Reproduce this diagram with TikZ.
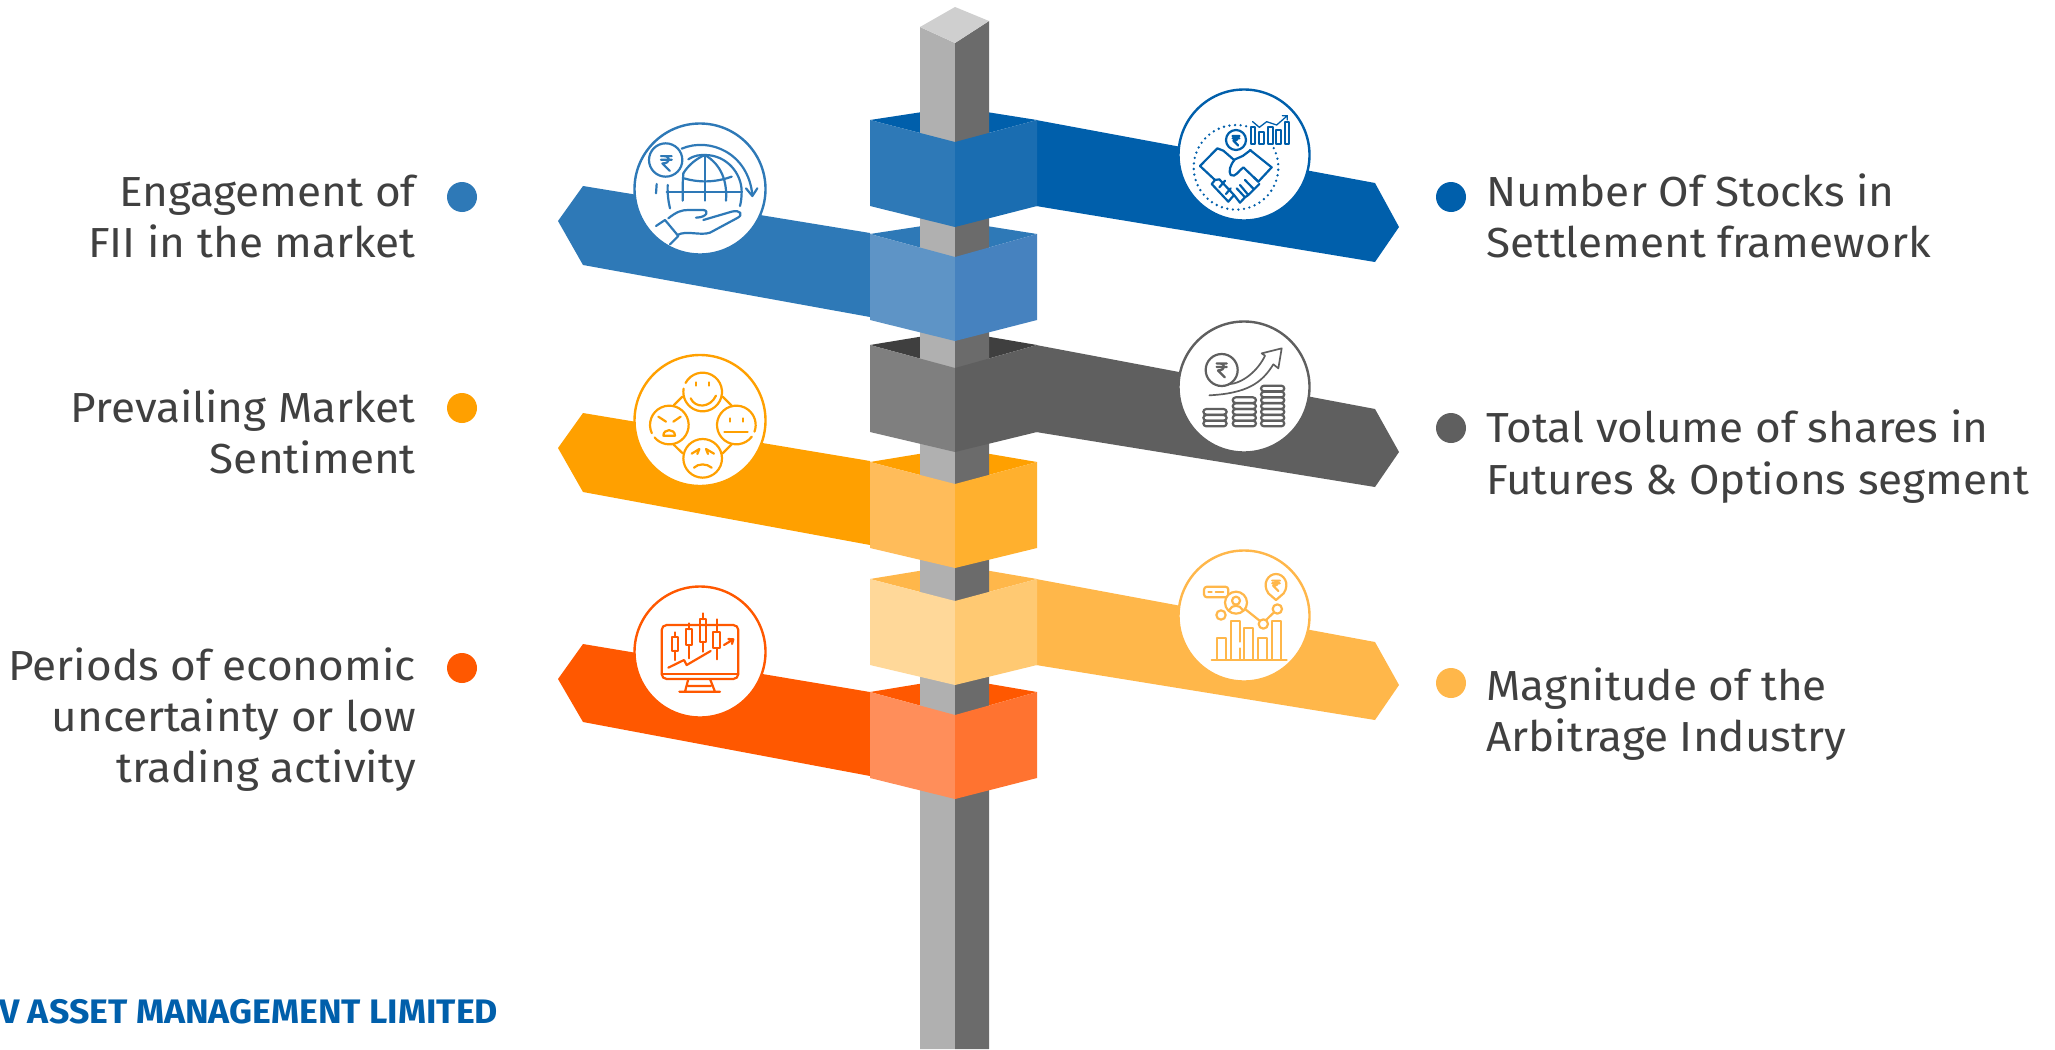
\documentclass[tikz,border=0pt]{standalone}
\usepackage{fontspec}
\setmainfont[FakeStretch=1.05]{Fira Sans}
\definecolor{txt}{HTML}{404040}
\definecolor{bA}{HTML}{2E79B7}\definecolor{bAl}{HTML}{5E94C6}\definecolor{bAr}{HTML}{4682BF}
\definecolor{bB}{HTML}{005FAB}\definecolor{bBl}{HTML}{2E79B7}\definecolor{bBr}{HTML}{1A6DB1}
\definecolor{gA}{HTML}{5F5F5F}\definecolor{gAl}{HTML}{7F7F7F}\definecolor{gAt}{HTML}{3F3F3F}
\definecolor{oA}{HTML}{FFA000}\definecolor{oAl}{HTML}{FFBC5A}\definecolor{oAr}{HTML}{FFB02E}
\definecolor{lA}{HTML}{FFB74A}\definecolor{lAl}{HTML}{FFD899}\definecolor{lAr}{HTML}{FFC972}
\definecolor{rA}{HTML}{FF5800}\definecolor{rAl}{HTML}{FF8E5A}\definecolor{rAr}{HTML}{FF7330}
\tikzset{
  ltxt/.style={anchor=base east,inner sep=0,text=txt,font=\fontsize{42}{50}\selectfont},
  rtxt/.style={anchor=base west,inner sep=0,text=txt,font=\fontsize{42}{50}\selectfont},
  dot/.style={circle,fill=#1,minimum size=30pt,inner sep=0},
  ring/.style={circle,fill=white,draw=#1,line width=2.4pt,minimum size=131pt,inner sep=0},
  icon/.style={color=#1,line width=2.2pt,line cap=round,line join=round}
}
\newcommand{\rupeeat}[3]{\begin{scope}[shift={(#1,#2)},scale=#3]
  \draw (-19,-22)--(19,-22) (-19,-9)--(19,-9) (-8,-22) .. controls (16,-22) and (16,4) .. (-14,4) -- (12,30);
\end{scope}}
% arc of a circle: centre x, y, radius, from, to (angles run clockwise on the page)
\newcommand{\garc}[5]{\draw ([shift={(#4:#3)}]#1,#2) arc (#4:#5:#3);}
\newcommand{\armL}[6]{\fill[#1] (870,#5)--(583,#2)--(558,#3)--(583,#4)--(870,#6)--cycle;}
\newcommand{\armR}[6]{\fill[#1] (1036,#5)--(1375,#2)--(1399,#3)--(1375,#4)--(1036,#6)--cycle;}
\newcommand{\ctop}[4]{\fill[#1] (870,#2)--(955,#3)--(1037,#2)--(955,#4)--cycle;}
\newcommand{\cfront}[6]{\fill[#1] (870,#3)--(955,#4)--(955,#6)--(870,#5)--cycle;
  \fill[#2] (955,#4)--(1037,#3)--(1037,#5)--(955,#6)--cycle;}
\begin{document}
\begin{tikzpicture}[x=1pt,y=-1pt]
\useasboundingbox (0,0) rectangle (2055,1049);
\fill[white] (0,0) rectangle (2055,1049);
% arms and collar tops, behind the post
\armR{bB}{183}{227}{262}{120}{206}
\ctop{bB}{120}{107}{142}
\armL{bA}{186}{221}{265}{233}{317}
\ctop{bA}{234}{221}{257}
\armR{gA}{409}{452}{487}{345}{432}
\ctop{gAt}{345}{331}{368}
\armL{oA}{413}{448}{492}{461}{545}
\ctop{oA}{462}{448}{484}
\armR{lA}{642}{685}{720}{579}{665}
\ctop{lA}{579}{565}{601}
\armL{rA}{644}{679}{722}{692}{776}
\ctop{rA}{692}{678}{715}
% post
\fill[black!31] (920,27)--(955,43)--(955,1049)--(920,1049)--cycle;
\fill[black!58] (955,43)--(989,21)--(989,1049)--(955,1049)--cycle;
\fill[black!19] (955,7)--(989,21)--(955,43)--(920,27)--cycle;
% collar fronts
\cfront{bBl}{bBr}{120}{142}{206}{227}
\cfront{bAl}{bAr}{234}{257}{320}{341}
\cfront{gAl}{gA}{345}{368}{432}{452}
\cfront{oAl}{oAr}{462}{484}{548}{568}
\cfront{lAl}{lAr}{579}{601}{665}{685}
\cfront{rAl}{rAr}{692}{715}{778}{799}
% rings
\node[ring=bA] (c1) at (700,189) {};
\node[ring=bB] (c2) at (1244,155) {};
\node[ring=oA] (c3) at (700,420.5) {};
\node[ring=gA] (c4) at (1244,387) {};
\node[ring=rA] (c5) at (700,652) {};
\node[ring=lA] (c6) at (1244,616) {};
% icon 1: globe and hand
\begin{scope}[shift={(620,110)},scale=1/3,icon=bA]
\draw (137,150) circle (50);
\rupeeat{139}{157}{.85}
\draw (205,148) .. controls (225,135) and (240,135) .. (255,135) .. controls (320,135) and (365,190) .. (365,245) .. controls (365,265) and (362,280) .. (360,288);
\draw (255,135)--(255,272);
\draw (190,190) .. controls (205,165) and (230,145) .. (255,135);
\draw (188,272)--(188,235) .. controls (188,220) and (189,205) .. (190,190);
\draw (255,135) .. controls (305,165) and (322,215) .. (318,272);
\draw (192,205) .. controls (235,218) and (285,218) .. (335,200);
\draw (140,245)--(365,245);
\draw (143,225) .. controls (142,250) and (145,275) .. (150,295);
\draw (110,222)--(108,250);
\draw (185,116) .. controls (270,80) and (385,130) .. (397,255);
\draw (378,235)--(397,258)--(412,235);
\draw (108,348)--(135,330)--(175,378)--(150,403);
\draw (145,325) .. controls (170,305) and (185,300) .. (205,300) -- (250,300) .. controls (268,302) and (262,322) .. (228,323);
\draw (250,330)--(335,305) .. controls (362,298) and (372,315) .. (350,325) -- (270,368) .. controls (240,378) and (200,360) .. (172,375);
\end{scope}
% icon 2: handshake
\begin{scope}[shift={(1160,80)},scale=1/3,icon=bB]
\begin{scope}[line width=2.6pt,dash pattern=on 0pt off 5.6pt]
\garc{228}{262}{127}{-27}{285}
\end{scope}
\draw[fill=white] (228,180) circle (30);
\rupeeat{228}{180}{.55}
\foreach \xa/\xb/\ya in {272/285/142,298/312/155,323/338/140,348/362/150,375/388/127}
  \draw[line width=1.7pt,fill=white] (\xa,\ya) rectangle (\xb,192);
\draw[line width=1.3pt] (278,125)--(298,142)--(320,125)--(350,135)--(382,107) (367,107)--(382,107)--(382,120);
\draw (120,258)--(172,205)--(190,212)--(220,238) (120,258)--(165,300);
\draw (270,210)--(335,262)--(295,305)--(282,292);
\draw (272,210)--(248,228)--(225,238) .. controls (210,255) and (205,275) .. (212,285) .. controls (225,295) and (238,270) .. (250,262) -- (295,305);
\draw (165,300)--(155,312)--(205,365)--(222,345)--(178,298)--(165,300);
\draw (178,322)--(195,302) (198,342)--(212,325);
\draw (222,345)--(240,368)--(255,352)--(230,325) (255,352)--(265,345)--(240,315) (265,345)--(282,328)--(255,300) (282,328)--(298,312);
\end{scope}
% icon 3: faces
\begin{scope}[shift={(620,345)},scale=1/3,icon=oA]
\garc{248}{141}{58}{208}{550}
\draw (229,112)--(229,122) (268,112)--(268,122);
\draw (212,160) .. controls (225,190) and (270,190) .. (288,152);
\garc{148}{240}{58}{155}{500}
\draw (187,155)--(162,180) (308,155)--(335,182) (160,298)--(188,325) (335,298)--(308,325);
\draw (115,215)--(138,230) (182,215)--(160,230);
\draw (130,272) .. controls (130,250) and (165,250) .. (165,272) -- cycle;
\garc{349}{240}{58}{37}{380}
\draw (329,220)--(329,230) (368,220)--(368,230) (313,261)--(383,261);
\draw (248,340) circle (58);
\draw (215,326)--(238,312)--(232,327) (282,326)--(258,312)--(264,327);
\draw (222,368) .. controls (235,355) and (260,355) .. (275,368);
\end{scope}
% icon 4: coins and rising arrow
\begin{scope}[shift={(1160,315)},scale=1/3,icon=gA]
\draw (185,165) circle (48);
\rupeeat{185}{163}{.8}
\draw[line width=1.7pt] (205,208) .. controls (250,205) and (295,165) .. (315,122) -- (305,115) -- (365,100) -- (355,160) -- (340,148) .. controls (305,205) and (260,235) .. (148,241) ;
\foreach \xa/\xb/\rows in {130/200/{282,300,317},218/288/{247,265,282,300,317},303/373/{212,230,247,265,282,300,317}}
  \foreach \ya in \rows
    \draw[rounded corners=3pt] (\xa,\ya) rectangle (\xb,\ya+17);
\end{scope}
% icon 5: monitor with candles
\begin{scope}[shift={(620,580)},scale=1/3,icon=rA]
\draw[rounded corners=5pt] (125,135) rectangle (355,297);
\draw (125,282)--(355,282);
\draw (205,297)--(195,335) (270,297)--(285,335) (178,335)--(300,335) (205,318)--(272,318);
\foreach \xc/\wa/\ba/\bb/\wb in {165/157/170/212/240,207/130/148/195/235,249/100/118/185/215,290/118/155/205/238}{
  \draw (\xc,\wa)--(\xc,\ba) (\xc,\bb)--(\xc,\wb);
  \draw (\xc-10,\ba) rectangle (\xc+10,\bb);
}
\draw (145,263)--(192,240)--(200,255)--(272,213);
\draw (312,195)--(340,178) (325,177)--(340,178)--(336,192);
\end{scope}
% icon 6: chart
\begin{scope}[shift={(1160,545)},scale=1/3,icon=lA]
\draw[rounded corners=3pt] (132,125) rectangle (205,157);
\draw (145,141)--(155,141) (167,141)--(190,141);
\draw[fill=white] (228,173) circle (33);
\draw (228,167) circle (12) (208,195) .. controls (215,178) and (240,178) .. (248,195);
\draw (183,210) circle (14) (310,237) circle (14) (352,192) circle (14);
\draw (255,192)--(300,228) (318,225)--(342,202);
\draw (348,165) -- (325,145) .. controls (305,115) and (325,87) .. (348,87) .. controls (371,87) and (391,115) .. (371,145) -- cycle;
\rupeeat{348}{120}{.6}
\draw (155,344)--(380,344);
\draw (170,344)--(170,278)--(197,278)--(197,344);
\draw (213,344)--(213,228)--(240,228)--(240,290) (240,310)--(240,344);
\draw (253,344)--(253,250)--(280,250)--(280,344);
\draw (295,344)--(295,278)--(322,278)--(322,344);
\draw (335,344)--(335,228)--(362,228)--(362,344);
\end{scope}
% dots
\node[dot=bA] (d1) at (462,197) {};
\node[dot=oA] (d3) at (462,408) {};
\node[dot=rA] (d5) at (462,668) {};
\node[dot=bB] (d2) at (1451,197) {};
\node[dot=gA] (d4) at (1451,428) {};
\node[dot=lA] (d6) at (1451,683) {};
% labels
\node[ltxt] (l1a) at (416,206) {Engagement of};
\node[ltxt] (l1b) at (416,257) {FII in the market};
\node[ltxt] (l3a) at (416,422) {Prevailing Market};
\node[ltxt] (l3b) at (416,473) {Sentiment};
\node[ltxt] (l5a) at (416,680) {Periods of economic};
\node[ltxt] (l5b) at (416,731) {uncertainty or low};
\node[ltxt] (l5c) at (416,782) {trading activity};
\node[rtxt] (l2a) at (1486,206) {Number Of Stocks in};
\node[rtxt] (l2b) at (1486,257) {Settlement framework};
\node[rtxt] (l4a) at (1486,442) {Total volume of shares in};
\node[rtxt] (l4b) at (1486,494) {Futures \& Options segment};
\node[rtxt] (l6a) at (1486,700) {Magnitude of the};
\node[rtxt] (l6b) at (1486,751) {Arbitrage Industry};
\node[anchor=base west,inner sep=0,text=bB,font=\fontsize{34}{40}\selectfont\bfseries] (wm) at (-1,1023) {V ASSET MANAGEMENT LIMITED};
\end{tikzpicture}
\end{document}
